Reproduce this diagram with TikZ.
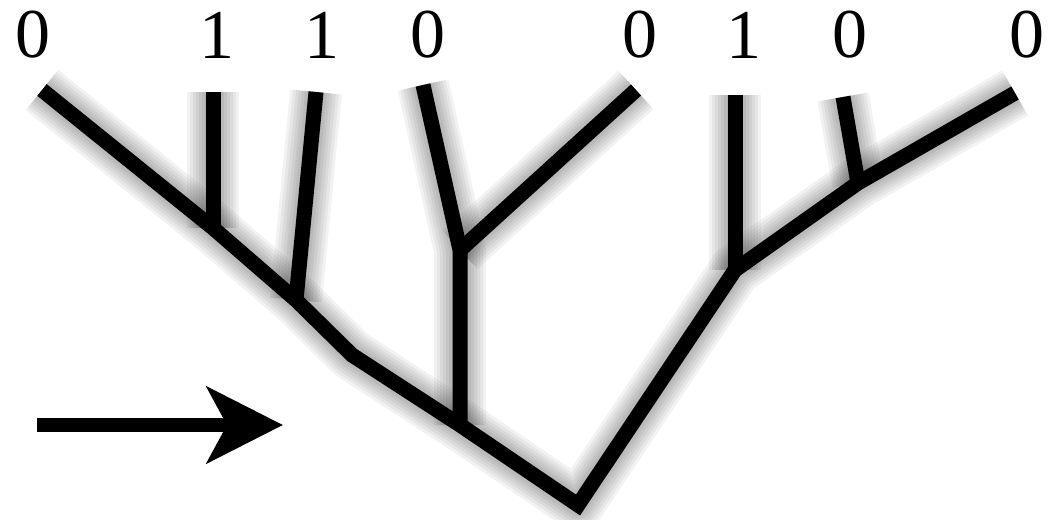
\documentclass[tikz,border=0pt]{standalone}
\usepackage{fontspec}
\setmainfont{Liberation Serif}
\usetikzlibrary{arrows.meta}

\newcommand{\treepaths}[1]{%
  \draw [#1] (t1) -- (a) -- (b) -- (c) -- (e) -- (r) -- (g) -- (f) -- (t8);
  \draw [#1] (t2) -- (a);
  \draw [#1] (t3) -- (b);
  \draw [#1] (t4) -- (d) -- (e);
  \draw [#1] (t5) -- (d);
  \draw [#1] (t6) -- (g);
  \draw [#1] (t7) -- (f);
}

\begin{document}
\begin{tikzpicture}[x=0.5pt,y=-0.5pt,
    branch/.style={line width=7.5pt,line join=miter},
    digit/.style={font=\fontsize{35}{35}\selectfont,inner sep=0pt}]
  \useasboundingbox (0,0) rectangle (1053,519);
  % leaf tips
  \coordinate (t1) at (42,90);
  \coordinate (t2) at (213,92);
  \coordinate (t3) at (316,92);
  \coordinate (t4) at (423,85);
  \coordinate (t5) at (636,90);
  \coordinate (t6) at (735,95);
  \coordinate (t7) at (843,97);
  \coordinate (t8) at (1015,93);
  % inner points
  \coordinate (a) at (213,228);
  \coordinate (b) at (296,300);
  \coordinate (c) at (352,355);
  \coordinate (d) at (460,250);
  \coordinate (e) at (460,425);
  \coordinate (f) at (858,183);
  \coordinate (g) at (735,270);
  \coordinate (r) at (578,505);
  % soft shadow
  \begin{scope}[shift={(15,12)}]
    \foreach \w in {26,23,...,5}
      {\treepaths{line width=\w pt,black,opacity=0.05,line join=round}}
  \end{scope}
  \treepaths{branch}
  % labels
  \node [digit] (d1) at (33,35) {0};
  \node [digit] (d2) at (217,35) {1};
  \node [digit] (d3) at (322,35) {1};
  \node [digit] (d4) at (428,35) {0};
  \node [digit] (d5) at (640,35) {0};
  \node [digit] (d6) at (744,35) {1};
  \node [digit] (d7) at (850,35) {0};
  \node [digit] (d8) at (1027,35) {0};
  % direction arrow
  \coordinate (s) at (37,425);
  \coordinate (h) at (283,425);
  \draw [line width=7pt,-{Stealth[length=38pt 0,width=38pt 0,inset=10pt 0]}] (s) -- (h);
\end{tikzpicture}
\end{document}
